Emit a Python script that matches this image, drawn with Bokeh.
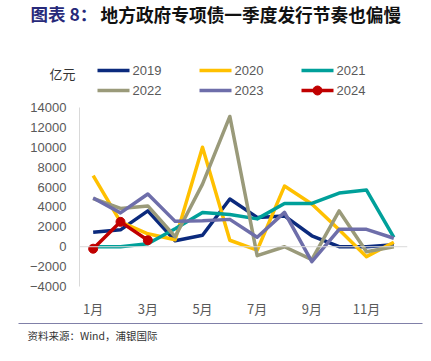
from bokeh.plotting import figure
from bokeh.layouts import column
from bokeh.models import Range1d, FixedTicker, Span
from bokeh.embed import file_html
from bokeh.resources import INLINE

months = [1, 2, 3, 4, 5, 6, 7, 8, 9, 10, 11, 12]
s2019 = [1450, 1700, 3600, 600, 1150, 4800, 2950, 3100, 1100, 0, 0, 200]
s2020 = [7150, 2500, 1300, 700, 10000, 650, -350, 6100, 4300, 1700, -1000, 450]
s2021 = [0, 0, 300, 1800, 3450, 3250, 2800, 4350, 4350, 5400, 5700, 950]
s2022 = [4850, 3850, 4100, 1000, 6300, 13100, -900, 0, -1300, 3600, -500, 0]
s2023 = [4900, 3400, 5300, 2550, 2600, 2750, 950, 3450, -1500, 1750, 1750, 850]
months2024 = [1, 2, 3]
s2024 = [-200, 2500, 650]

series_names = ["2019", "2020", "2021", "2022", "2023", "2024"]
series_vals = [s2019, s2020, s2021, s2022, s2023]
colors = ["#0b2a7d", "#ffc000", "#00a09a", "#9a9a7a", "#6e6eaa", "#c00000"]

x_ticks = [1, 3, 5, 7, 9, 11]
x_labels = ["1月", "3月", "5月", "7月", "9月", "11月"]
y_ticks = [-4000, -2000, 0, 2000, 4000, 6000, 8000, 10000, 12000, 14000]

W = 423
CJK = "Noto Sans CJK SC"


def blank(h, y0, y1):
    f = figure(width=W, height=h, output_backend="svg", toolbar_location=None,
               x_range=Range1d(0, W), y_range=Range1d(y1, y0),
               x_axis_type=None, y_axis_type=None, min_border=0, frame_align=False)
    f.outline_line_color = None
    f.xgrid.visible = False
    f.ygrid.visible = False
    return f


# ---- header: title, unit, legend ----
top = blank(100, 0, 100)
top.text(x=[30], y=[13], text=["图表 8："], text_font={"value": CJK},
         text_font_style="bold", text_font_size="17.5px", text_color="#27297a",
         text_baseline="middle", text_align="left")
top.text(x=[100], y=[13], text=["地方政府专项债一季度发行节奏也偏慢"], text_font={"value": CJK},
         text_font_style="bold", text_font_size="17.7px", text_color="#111111",
         text_baseline="middle", text_align="left")
top.text(x=[49], y=[73], text=["亿元"], text_font={"value": CJK},
         text_font_size="13px", text_color="#333333", text_baseline="middle",
         text_align="left")

leg_x = [97, 199, 301, 97, 199, 301]
leg_y = [70, 70, 70, 90, 90, 90]
top.segment(x0=leg_x, y0=leg_y, x1=[v + 32 for v in leg_x], y1=leg_y,
            line_color=colors, line_width=3.5)
top.scatter(x=[leg_x[5] + 16], y=[leg_y[5]], size=9, fill_color=colors[5],
            line_color=colors[5])
top.text(x=[v + 35 for v in leg_x], y=leg_y, text=series_names,
         text_font={"value": "Liberation Sans"}, text_font_size="13px",
         text_color="#595959", text_baseline="middle", text_align="left")

# ---- main chart ----
p = figure(width=W, height=220, output_backend="svg", toolbar_location=None,
           x_range=Range1d(0.5, 12.5), y_range=Range1d(-4000, 14000),
           min_border_left=79, min_border_right=16, min_border_top=7,
           min_border_bottom=32, frame_align=False)
p.outline_line_color = None
p.xgrid.visible = False
p.ygrid.visible = False

p.xaxis.ticker = FixedTicker(ticks=x_ticks)
p.xaxis.major_label_overrides = {t: l for t, l in zip(x_ticks, x_labels)}
p.xaxis.axis_line_color = None
p.xaxis.major_tick_line_color = None
p.xaxis.minor_tick_line_color = None
p.xaxis.major_tick_out = 0
p.xaxis.major_label_standoff = 12
p.xaxis.major_label_text_font_size = "13px"
p.xaxis.major_label_text_color = "#595959"
p.xaxis.major_label_text_font = CJK

p.yaxis.ticker = FixedTicker(ticks=y_ticks)
p.yaxis.axis_line_color = "#d9d9d9"
p.yaxis.major_tick_line_color = None
p.yaxis.minor_tick_line_color = None
p.yaxis.major_tick_out = 0
p.yaxis.major_label_standoff = 13
p.yaxis.major_label_text_font_size = "13px"
p.yaxis.major_label_text_color = "#595959"
p.yaxis.major_label_text_font = "Liberation Sans"

p.add_layout(Span(location=0, dimension="width", line_color="#d9d9d9", line_width=1))

for vals, c in zip(series_vals, colors[:5]):
    p.line(months, vals, line_color=c, line_width=3.5, line_join="round")
p.line(months2024, s2024, line_color=colors[5], line_width=3.5, line_join="round")
p.scatter(months2024, s2024, size=9, fill_color=colors[5], line_color=colors[5])

# ---- footer: rule and source ----
bot = blank(33, 320, 353)
bot.segment(x0=[18], y0=[323], x1=[422], y1=[323], line_color="#8080a8", line_width=1.2)
bot.text(x=[27], y=[335], text=["资料来源：Wind，浦银国际"], text_font={"value": CJK},
         text_font_size="10.5px", text_color="#333333", text_baseline="middle",
         text_align="left")

layout = column(top, p, bot, spacing=0)
open("out.html", "w").write(file_html(layout, INLINE))
